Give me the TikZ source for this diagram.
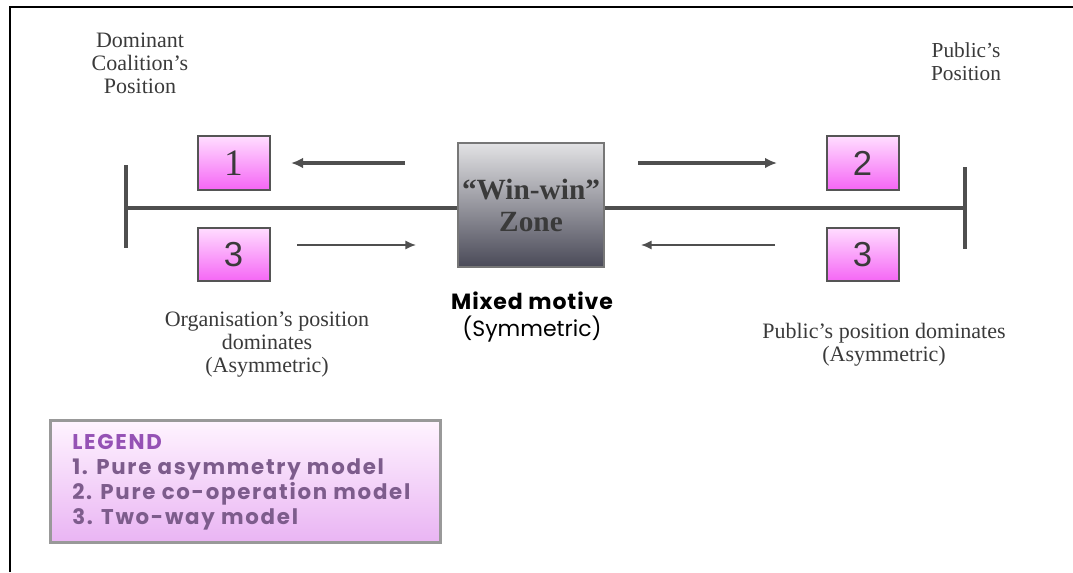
\documentclass[tikz,border=0pt]{standalone}
\usepackage{fontspec}
\setmainfont{Liberation Serif}
\newfontfamily\numsans{Liberation Sans}
\newfontfamily\gsans[LetterSpace=8]{Poppins}
\newfontfamily\msans{Poppins}
\newfontfamily\mbsans[LetterSpace=4]{Poppins}
\usetikzlibrary{arrows.meta}
\definecolor{pinkTop}{HTML}{FFDDFF}
\definecolor{pinkBot}{HTML}{F566F5}
\definecolor{boxEdge}{HTML}{555555}
\definecolor{greyTop}{HTML}{E2E2E4}
\definecolor{greyBot}{HTML}{4A4A58}
\definecolor{legTop}{HTML}{FFF4FF}
\definecolor{legBot}{HTML}{E9B4F3}
\definecolor{legHead}{HTML}{9552B5}
\definecolor{legText}{HTML}{7D5C8C}
\definecolor{axisCol}{HTML}{4F4F4F}
\definecolor{txtCol}{HTML}{3A3A3A}
\tikzset{
  numbox/.style={draw=boxEdge, line width=1.5pt, top color=pinkTop, bottom color=pinkBot,
    minimum width=54pt, minimum height=40pt, inner sep=0pt, text=txtCol, font=\numsans\fontsize{26}{28}\selectfont},
  zonebox/.style={draw=boxEdge!80, line width=1.2pt, top color=greyTop, bottom color=greyBot,
    minimum width=109.5pt, minimum height=93pt, inner sep=0pt, align=center, text=txtCol,
    font=\bfseries\fontsize{22}{24}\selectfont},
  legbox/.style={draw=gray!80, line width=2.2pt, top color=legTop, bottom color=legBot,
    minimum width=293pt, minimum height=92pt, inner sep=0pt},
  serifnote/.style={align=center, text=txtCol, font=\fontsize{16.5}{17.25}\selectfont, inner sep=0pt},
  axis/.style={draw=axisCol, line width=3pt},
  thickarrow/.style={draw=axisCol, line width=2.4pt, -{Latex[length=9pt,width=8pt]}},
  thinarrow/.style={draw=axisCol, line width=1.4pt, -{Latex[length=8pt,width=7pt]}},
}
\begin{document}
\begin{tikzpicture}[x=0.75pt,y=-0.75pt]
\useasboundingbox (0,0) rectangle (1073,572);
% outer frame
\coordinate (fb) at (10,572);
\coordinate (ftl) at (10,7);
\coordinate (ftr) at (1073,7);
\draw[line width=1.6pt] (fb) -- (ftl) -- (ftr);

% axis
\coordinate (axL) at (125,208);
\coordinate (axR) at (965,208);
\coordinate (tLt) at (126,165);
\coordinate (tLb) at (126,248);
\coordinate (tRt) at (965,167);
\coordinate (tRb) at (965,249);
\draw[axis] (axL) -- (axR);
\draw[axis] (tLt) -- (tLb);
\draw[axis] (tRt) -- (tRb);

% boxes
\node[numbox, font=\fontsize{28}{28}\selectfont] (b1) at (233.5,163) {1};
\node[numbox] (b3l) at (233.5,254.5) {3};
\node[numbox] (b2) at (862.5,163) {2};
\node[numbox] (b3r) at (862.5,254.5) {3};
\node[zonebox] (zone) at (531,205) {``Win-win''\\Zone};

% arrows
\coordinate (a1s) at (405,163);
\coordinate (a1e) at (291,163);
\coordinate (a2s) at (638,163);
\coordinate (a2e) at (777,163);
\coordinate (a3s) at (297,245);
\coordinate (a3e) at (416,245);
\coordinate (a4s) at (775,245);
\coordinate (a4e) at (641,245);
\draw[thickarrow] (a1s) -- (a1e);
\draw[thickarrow] (a2s) -- (a2e);
\draw[thinarrow] (a3s) -- (a3e);
\draw[thinarrow] (a4s) -- (a4e);

% labels
\node[serifnote, font=\fontsize{16.5}{17.25}\selectfont] (dom) at (140,63) {Dominant\\Coalition's\\Position};
\node[serifnote, font=\fontsize{16}{17.25}\selectfont] (pub) at (966,61.5) {Public's\\Position};
\node[align=center, inner sep=0pt, font=\msans\fontsize{16.5}{20.25}\selectfont] (mix) at (532,317) {{\mbsans\bfseries Mixed motive}\\(Symmetric)};
\node[serifnote] (org) at (267,345) {Organisation's position\\dominates\\(Asymmetric)};
\node[serifnote] (pubdom) at (884,344.5) {Public's position dominates\\(Asymmetric)};

% legend
\node[legbox] (leg) at (245.5,481.5) {};
\node[anchor=north west, align=left, inner sep=0pt, font=\gsans\bfseries\fontsize{16}{18.75}\selectfont, text=legText] (legtxt) at (72,434)
 {\textcolor{legHead}{LEGEND}\\1. Pure asymmetry model\\2. Pure co-operation model\\3. Two-way model};
\end{tikzpicture}
\end{document}
